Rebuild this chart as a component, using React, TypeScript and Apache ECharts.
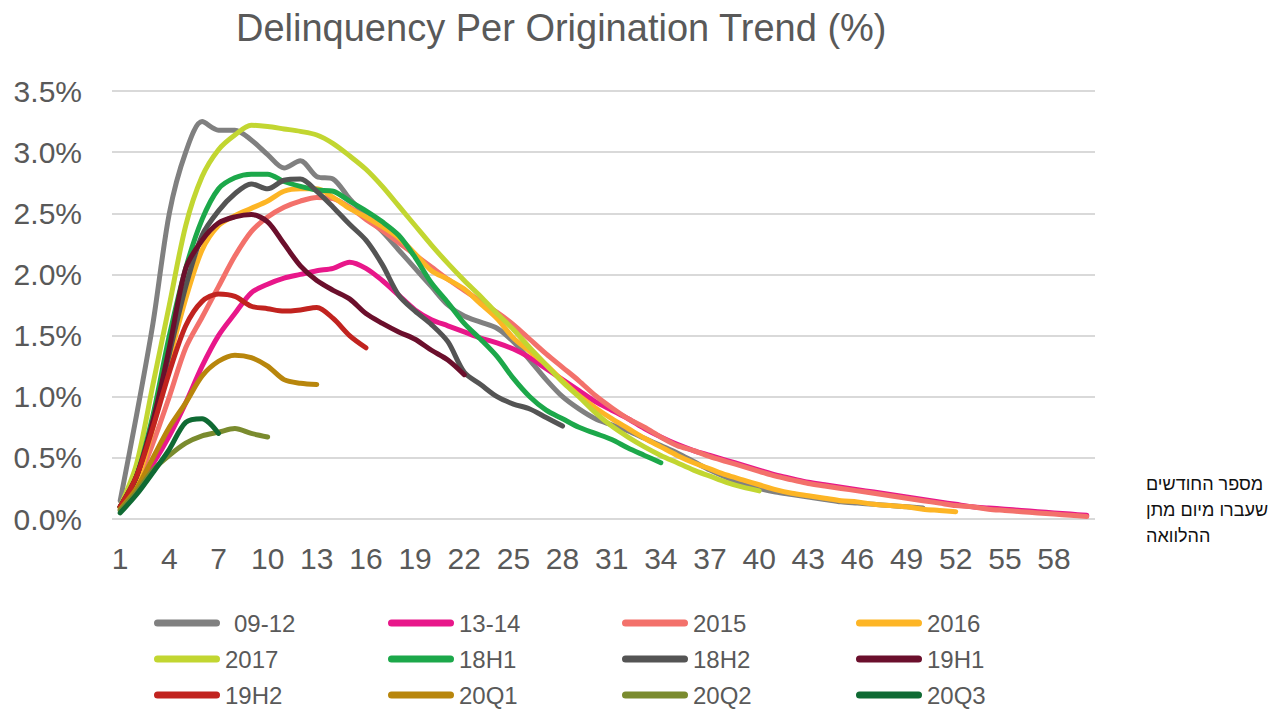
import React, { useEffect, useRef } from "react";
import * as echarts from "echarts";

const titleText = "Delinquency Per Origination Trend (%)";
const months = Array.from({ length: 60 }, (_, i) => String(i + 1));
const yTicks = { min: 0, max: 3.5, interval: 0.5 };
const hebrewLines = ["מספר החודשים", "שעברו מיום מתן", "ההלוואה"];

const seriesNames = ["09-12", "13-14", "2015", "2016", "2017", "18H1", "18H2", "19H1", "19H2", "20Q1", "20Q2", "20Q3"];
const seriesColors = ["#808080", "#e8178a", "#f3716b", "#fdb525", "#c2d631", "#1ca84a", "#545454", "#6b0f2c", "#c1231f", "#b8860c", "#7a8b2e", "#0f6a33"];

const s0912 = [0.15, 0.85, 1.6, 2.5, 3.0, 3.25, 3.18, 3.18, 3.1, 2.98, 2.87, 2.93, 2.8, 2.78, 2.62, 2.48, 2.35, 2.2, 2.05, 1.9, 1.75, 1.66, 1.61, 1.56, 1.45, 1.3, 1.14, 1.0, 0.9, 0.82, 0.77, 0.72, 0.66, 0.6, 0.54, 0.47, 0.4, 0.34, 0.29, 0.25, 0.22, 0.2, 0.18, 0.16, 0.14, 0.13, 0.12, 0.11, 0.1, 0.09];
const s1314 = [0.1, 0.25, 0.45, 0.68, 0.95, 1.25, 1.5, 1.68, 1.85, 1.92, 1.97, 2.0, 2.03, 2.05, 2.1, 2.05, 1.95, 1.83, 1.71, 1.63, 1.58, 1.53, 1.48, 1.44, 1.39, 1.32, 1.23, 1.14, 1.05, 0.96, 0.89, 0.82, 0.74, 0.67, 0.61, 0.56, 0.52, 0.48, 0.44, 0.4, 0.36, 0.33, 0.3, 0.28, 0.26, 0.24, 0.22, 0.2, 0.18, 0.16, 0.14, 0.12, 0.1, 0.09, 0.08, 0.07, 0.06, 0.05, 0.04, 0.03];
const s2015 = [0.1, 0.3, 0.62, 1.0, 1.4, 1.65, 1.9, 2.15, 2.35, 2.47, 2.55, 2.6, 2.63, 2.62, 2.55, 2.45, 2.36, 2.26, 2.16, 2.06, 1.96, 1.87, 1.78, 1.69, 1.59, 1.47, 1.35, 1.24, 1.13, 1.01, 0.91, 0.82, 0.75, 0.67, 0.6, 0.56, 0.51, 0.47, 0.43, 0.39, 0.35, 0.32, 0.29, 0.27, 0.25, 0.23, 0.21, 0.19, 0.17, 0.15, 0.13, 0.11, 0.1, 0.08, 0.07, 0.06, 0.05, 0.04, 0.03, 0.02];
const s2016 = [0.1, 0.3, 0.75, 1.3, 1.8, 2.2, 2.4, 2.48, 2.54, 2.6, 2.68, 2.7, 2.7, 2.63, 2.54, 2.47, 2.39, 2.3, 2.17, 2.03, 1.96, 1.88, 1.76, 1.64, 1.48, 1.37, 1.26, 1.13, 1.01, 0.91, 0.82, 0.74, 0.66, 0.59, 0.52, 0.46, 0.41, 0.36, 0.32, 0.28, 0.24, 0.21, 0.19, 0.17, 0.15, 0.14, 0.12, 0.11, 0.1, 0.08, 0.07, 0.06];
const s2017 = [0.1, 0.45, 1.1, 1.75, 2.4, 2.8, 3.02, 3.14, 3.22, 3.21, 3.19, 3.17, 3.14, 3.07, 2.97, 2.86, 2.72, 2.56, 2.4, 2.24, 2.09, 1.95, 1.82, 1.68, 1.55, 1.4, 1.26, 1.12, 1.0, 0.87, 0.76, 0.67, 0.59, 0.52, 0.46, 0.4, 0.35, 0.3, 0.26, 0.23];
const s18H1 = [0.1, 0.35, 0.85, 1.5, 2.05, 2.45, 2.7, 2.79, 2.82, 2.82, 2.76, 2.72, 2.69, 2.68, 2.6, 2.52, 2.43, 2.32, 2.14, 1.93, 1.77, 1.6, 1.47, 1.33, 1.15, 1.0, 0.89, 0.82, 0.75, 0.7, 0.65, 0.58, 0.52, 0.46];
const s18H2 = [0.1, 0.35, 0.8, 1.35, 1.9, 2.32, 2.52, 2.66, 2.74, 2.7, 2.77, 2.78, 2.68, 2.55, 2.41, 2.28, 2.08, 1.83, 1.7, 1.59, 1.45, 1.2, 1.1, 1.0, 0.94, 0.9, 0.83, 0.76];
const s19H1 = [0.1, 0.35, 0.8, 1.4, 2.05, 2.28, 2.42, 2.47, 2.49, 2.43, 2.25, 2.07, 1.95, 1.87, 1.8, 1.68, 1.6, 1.53, 1.47, 1.38, 1.3, 1.18];
const s19H2 = [0.1, 0.35, 0.75, 1.2, 1.58, 1.78, 1.84, 1.82, 1.74, 1.72, 1.7, 1.71, 1.73, 1.64, 1.5, 1.4];
const s20Q1 = [0.08, 0.25, 0.5, 0.75, 0.95, 1.17, 1.29, 1.34, 1.32, 1.25, 1.14, 1.11, 1.1];
const s20Q2 = [0.07, 0.22, 0.4, 0.52, 0.62, 0.68, 0.71, 0.74, 0.7, 0.67];
const s20Q3 = [0.05, 0.2, 0.38, 0.57, 0.79, 0.82, 0.7];

const seriesValues = [s0912, s1314, s2015, s2016, s2017, s18H1, s18H2, s19H1, s19H2, s20Q1, s20Q2, s20Q3];

const FONT = "'Liberation Sans', Arial, Helvetica, sans-serif";
const TXT = "#595959";

export default function App() {
  const ref = useRef<HTMLDivElement>(null);

  useEffect(() => {
    if (!ref.current) return;
    const chart = echarts.init(ref.current, undefined, { renderer: "svg" });
    const legendCols = [154, 388, 622, 856];
    const legendRows = [623, 659, 695];
    const icon = "path://M3.5 0H62.5A3.5 3.5 0 0 1 62.5 7H3.5A3.5 3.5 0 0 1 3.5 0Z";

    const option: any = {
      animation: false,
      backgroundColor: "#ffffff",
      title: {
        text: titleText,
        left: 236,
        top: 9,
        padding: 0,
        textStyle: { fontSize: 38, fontWeight: "normal", color: TXT, fontFamily: FONT },
      },
      grid: { left: 112, right: 182, top: 91, bottom: 191, containLabel: false },
      xAxis: {
        type: "category",
        data: months,
        boundaryGap: true,
        axisLine: { show: false },
        axisTick: { show: false },
        axisLabel: { interval: 2, margin: 24, fontSize: 30, color: TXT, fontFamily: FONT },
        splitLine: { show: false },
      },
      yAxis: {
        type: "value",
        min: yTicks.min,
        max: yTicks.max,
        interval: yTicks.interval,
        axisLine: { show: false },
        axisTick: { show: false },
        axisLabel: {
          margin: 30,
          fontSize: 30,
          color: TXT,
          fontFamily: FONT,
          formatter: (v: number) => v.toFixed(1) + "%",
        },
        splitLine: { lineStyle: { color: "#d9d9d9", width: 2 } },
      },
      legend: seriesNames.map((n, i) => ({
        data: [n],
        left: legendCols[i % 4],
        top: legendRows[Math.floor(i / 4)] - 12,
        padding: 0,
        itemWidth: 66,
        itemHeight: 7,
        icon,
        selectedMode: false,
        textStyle: {
          fontSize: 24,
          color: TXT,
          fontFamily: FONT,
          padding: i === 0 ? [0, 0, 0, 9] : [0, 0, 0, 0],
        },
      })),
      graphic: hebrewLines.map((t, i) => ({
        type: "text",
        left: 1146,
        top: 475 + i * 26,
        style: { text: t, fontSize: 18, fill: "#111111", fontFamily: FONT },
      })),
      series: seriesNames.map((n, i) => ({
        name: n,
        type: "line",
        data: seriesValues[i],
        showSymbol: false,
        symbol: "none",
        smooth: 0.3,
        itemStyle: { color: seriesColors[i] },
        lineStyle: { color: seriesColors[i], width: 5, cap: "round", join: "round" },
        emphasis: { disabled: true },
      })),
    };
    chart.setOption(option);
    return () => chart.dispose();
  }, []);

  return (
    <div
      ref={ref}
      style={{ position: "fixed", left: 0, top: 0, width: 1277, height: 710, background: "#fff" }}
    />
  );
}
